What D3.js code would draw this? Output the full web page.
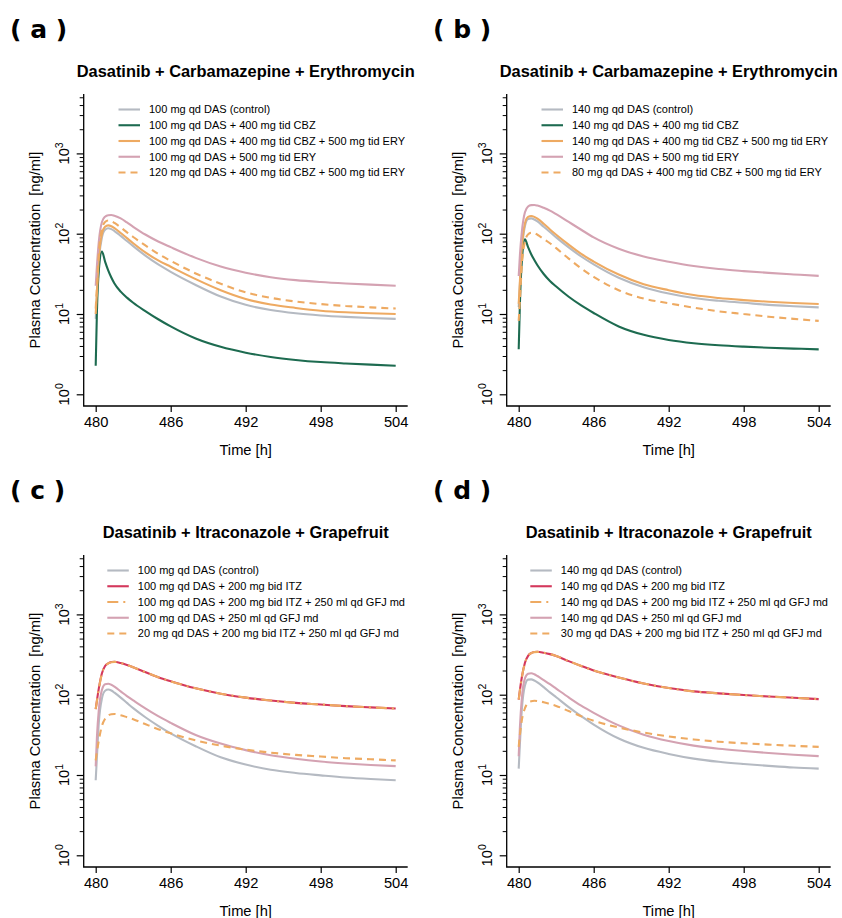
<!DOCTYPE html>
<html><head><meta charset="utf-8">
<script src="https://cdn.jsdelivr.net/npm/d3@7"></script>
<style>
body{margin:0;background:#fff}
svg{display:block}
text{font-family:"Liberation Sans",Arial,Helvetica,sans-serif;fill:#000}
</style></head>
<body><svg id="chart" width="842" height="918"></svg>
<script>
// ---------- data ----------
const timeH = [480, 480.1, 480.25, 480.5, 480.75, 481, 481.25, 481.5, 482, 482.5, 483, 484, 485, 486, 488, 490, 492, 494, 496, 498, 500, 502, 504];

// panel (a) 100 mg DAS
const aControl = [8.7, 17, 45, 90, 112, 117, 114, 108, 94, 81, 70, 53, 41.5, 33.5, 23, 16.5, 13, 11.2, 10.2, 9.6, 9.2, 8.9, 8.7];
const aCBZ     = [2.27, 11, 35, 60, 45, 35, 28.5, 24, 19, 16, 13.8, 10.8, 8.6, 7.0, 4.95, 3.9, 3.3, 2.92, 2.68, 2.52, 2.42, 2.34, 2.27];
const aCBZERY  = [10, 19, 50, 100, 122, 127, 124, 117, 102, 88, 76, 58, 46.5, 38.8, 27.2, 19.8, 15.4, 13.1, 11.9, 11.0, 10.5, 10.2, 10];
const aERY     = [22.5, 40, 80, 140, 163, 170, 171, 167, 155, 138, 122, 97, 80, 68, 50, 39, 32.7, 28.7, 26.4, 25, 24, 23.2, 22.5];
const aAdj     = [11.7, 22, 58, 115, 140, 146, 143, 136, 120, 104, 91, 71, 56, 46, 32, 23.8, 18.6, 15.9, 14.3, 13.3, 12.6, 12.1, 11.7];

// panel (b) 140 mg DAS
const bControl = [12.2, 24, 60, 125, 152, 155, 150, 142, 122, 105, 90, 67.5, 52, 41.5, 28.3, 21.6, 18, 15.8, 14.6, 13.8, 13, 12.5, 12.1];
const bCBZ     = [3.63, 14, 45, 85, 68, 55.5, 47, 40.5, 31.5, 25.8, 22, 16.4, 12.8, 10.3, 7.0, 5.5, 4.75, 4.33, 4.08, 3.92, 3.8, 3.71, 3.63];
const bCBZERY  = [13.4, 26, 66, 135, 162, 166, 162, 154, 133, 113, 97, 73, 56, 45, 31, 23.5, 19.8, 17.2, 15.8, 14.9, 14.2, 13.7, 13.3];
const bERY     = [29.7, 55, 105, 185, 218, 227, 228, 224, 210, 194, 175, 140, 112, 90, 65, 52, 44.8, 39.6, 36.3, 34.2, 32.5, 31.1, 29.8];
const bAdj     = [8.2, 15, 40, 80, 98, 103, 102, 97, 86, 76, 66, 49, 37, 29, 19.8, 15.6, 13.6, 12, 10.8, 10, 9.25, 8.7, 8.2];

// panel (c) 100 mg DAS
const cControl = [8.6, 17, 45, 90, 112, 116, 113, 106, 92, 79, 68, 52, 41, 33, 22.8, 16.6, 13.5, 11.6, 10.6, 9.9, 9.3, 8.9, 8.6];
const cITZ     = [66, 85, 120, 185, 228, 246, 255, 257, 248, 235, 220, 190, 165, 147, 120, 103, 92, 84.5, 79, 75.5, 72, 69.5, 67.3];
const cITZGFJ  = [66, 84, 118, 183, 227, 245, 254, 256, 248, 235, 220, 190, 165, 147, 120, 103, 92, 84.5, 79, 75.5, 72, 69.5, 67.3];
const cGFJ     = [12.8, 30, 65, 115, 135, 137, 133, 126, 110, 96, 85, 67, 54, 44.6, 31.5, 24.6, 20.4, 17.6, 15.9, 14.7, 13.9, 13.3, 12.9];
const cAdj     = [15.2, 19.5, 27, 41, 50, 55, 57, 57.5, 55.5, 52.5, 49.5, 42.8, 37.2, 33, 27, 23.2, 20.7, 19, 17.8, 17, 16.2, 15.7, 15.2];

// panel (d) 140 mg DAS
const dControl = [12, 25, 65, 130, 154, 155, 150, 142, 124, 107, 93, 70, 54, 42.5, 28.5, 21.8, 18.3, 16, 14.6, 13.7, 13, 12.4, 12];
const dITZ     = [87, 115, 165, 250, 305, 330, 340, 342, 333, 320, 303, 262, 228, 200, 164, 138, 121, 110, 104, 99, 95, 91.5, 88];
const dITZGFJ  = [87, 114, 163, 248, 304, 329, 339, 341, 333, 320, 303, 262, 228, 200, 164, 138, 121, 110, 104, 99, 95, 91.5, 88];
const dGFJ     = [17.1, 40, 90, 160, 182, 185, 180, 171, 152, 135, 119, 92.5, 73, 59.5, 41.5, 31.8, 26.5, 23.2, 21.2, 19.9, 18.8, 17.9, 17.2];
const dAdj     = [22.4, 32, 48, 68, 79, 83, 84, 83.5, 80.5, 76.5, 72.5, 62.5, 54, 47.5, 39, 33.8, 30.2, 27.7, 26, 24.8, 23.9, 23.1, 22.4];

// labels
const panelLetters = ["( a )", "( b )", "( c )", "( d )"];
const titleCE = "Dasatinib + Carbamazepine + Erythromycin";
const titleIG = "Dasatinib + Itraconazole + Grapefruit";
const legendA = ["100 mg qd DAS (control)", "100 mg qd DAS + 400 mg tid CBZ", "100 mg qd DAS + 400 mg tid CBZ + 500 mg tid ERY", "100 mg qd DAS + 500 mg tid ERY", "120 mg qd DAS + 400 mg tid CBZ + 500 mg tid ERY"];
const legendB = ["140 mg qd DAS (control)", "140 mg qd DAS + 400 mg tid CBZ", "140 mg qd DAS + 400 mg tid CBZ + 500 mg tid ERY", "140 mg qd DAS + 500 mg tid ERY", "80 mg qd DAS + 400 mg tid CBZ + 500 mg tid ERY"];
const legendC = ["100 mg qd DAS (control)", "100 mg qd DAS + 200 mg bid ITZ", "100 mg qd DAS + 200 mg bid ITZ + 250 ml qd GFJ md", "100 mg qd DAS + 250 ml qd GFJ md", "20 mg qd DAS + 200 mg bid ITZ + 250 ml qd GFJ md"];
const legendD = ["140 mg qd DAS (control)", "140 mg qd DAS + 200 mg bid ITZ", "140 mg qd DAS + 200 mg bid ITZ + 250 ml qd GFJ md", "140 mg qd DAS + 250 ml qd GFJ md", "30 mg qd DAS + 200 mg bid ITZ + 250 ml qd GFJ md"];
const xTicks = [480, 486, 492, 498, 504];
const yMajor = [1, 10, 100, 1000];
const yExp = ["0", "1", "2", "3"];
const xLabel = "Time [h]";
const yLabel = "Plasma Concentration  [ng/ml]";

// ---------- styles ----------
const C_GRAY = "#b5bac2", C_GREEN = "#1d6b50", C_ORANGE = "#eeaa62", C_PINK = "#d4a2b2", C_RED = "#d4385c";
const DASH = "7,5", DASHDOT = "11,5,2,5";

const panels = [
  {ox: 0, oy: 0, letter: panelLetters[0], title: titleCE, legend: legendA, legX: 118.5,
   series: [[aControl, C_GRAY, null], [aCBZ, C_GREEN, null], [aCBZERY, C_ORANGE, null], [aERY, C_PINK, null], [aAdj, C_ORANGE, DASH]]},
  {ox: 423, oy: 0, letter: panelLetters[1], title: titleCE, legend: legendB, legX: 118.5,
   series: [[bControl, C_GRAY, null], [bCBZ, C_GREEN, null], [bCBZERY, C_ORANGE, null], [bERY, C_PINK, null], [bAdj, C_ORANGE, DASH]]},
  {ox: 0, oy: 461, letter: panelLetters[2], title: titleIG, legend: legendC, legX: 107.3,
   series: [[cControl, C_GRAY, null], [cITZ, C_RED, null], [cITZGFJ, C_ORANGE, DASHDOT], [cGFJ, C_PINK, null], [cAdj, C_ORANGE, DASH]]},
  {ox: 423, oy: 461, letter: panelLetters[3], title: titleIG, legend: legendD, legX: 107.3,
   series: [[dControl, C_GRAY, null], [dITZ, C_RED, null], [dITZGFJ, C_ORANGE, DASHDOT], [dGFJ, C_PINK, null], [dAdj, C_ORANGE, DASH]]}
];
const svg = d3.select("#chart");

panels.forEach(p => {
  const g = svg.append("g").attr("transform", `translate(${p.ox},${p.oy})`);
  const x = d3.scaleLinear().domain([480, 504]).range([95.7, 395.7]);
  const y = d3.scaleLog().domain([1, 1000]).range([394.3, 153.4]);
  const xLo = 480 - 0.04 * 24, xHi = 504 + 0.04 * 24;
  const yLo = y.invert(406), yHi = y.invert(94);

  // panel letter
  g.append("text").attr("x", 10).attr("y", 37.5)
    .style("font-family", "'DejaVu Sans',sans-serif").style("font-weight", "bold").style("font-size", "25px")
    .text(p.letter);
  // title
  g.append("text").attr("x", (x(xLo) + x(xHi)) / 2).attr("y", 77).attr("text-anchor", "middle")
    .style("font-weight", "bold").style("font-size", "16.4px").text(p.title);

  // axis lines (L-shaped box)
  g.append("path").attr("d", `M${x(xLo)},${y(yHi)}V${y(yLo)}H${x(xHi)}`)
    .attr("fill", "none").attr("stroke", "#000").attr("stroke-width", 1.3);

  // x axis ticks
  const xa = d3.axisBottom(x).tickValues(xTicks).tickSize(6).tickPadding(3).tickFormat(d3.format("d"));
  const gx = g.append("g").attr("transform", `translate(0,${y(yLo)})`).call(xa);
  gx.select(".domain").remove();
  gx.selectAll(".tick line").attr("stroke", "#000").attr("stroke-width", 1.2);
  gx.selectAll(".tick text").style("font-family", "'Liberation Sans',Arial,sans-serif").style("font-size", "14.7px").attr("fill", "#000").attr("y", 10.5);

  // y axis major + minor ticks
  const minor = [];
  [1, 10, 100].forEach(b => { for (let k = 2; k <= 9; k++) minor.push(b * k); });
  [2000, 3000, 4000, 5000].forEach(v => minor.push(v));
  const ya = d3.axisLeft(y).tickValues(yMajor).tickSize(7).tickFormat("");
  const gy = g.append("g").attr("transform", `translate(${x(xLo)},0)`).call(ya);
  gy.select(".domain").remove();
  gy.selectAll(".tick line").attr("stroke", "#000").attr("stroke-width", 1.2);
  const ym = d3.axisLeft(y).tickValues(minor).tickSize(4).tickFormat("");
  const gym = g.append("g").attr("transform", `translate(${x(xLo)},0)`).call(ym);
  gym.select(".domain").remove();
  gym.selectAll(".tick line").attr("stroke", "#000").attr("stroke-width", 1);

  // y tick labels 10^k rotated
  yMajor.forEach((v, i) => {
    const t = g.append("text").attr("transform", `translate(69,${y(v)}) rotate(-90)`)
      .attr("text-anchor", "middle").style("font-size", "14.7px");
    t.append("tspan").text("10");
    t.append("tspan").attr("dy", -6).style("font-size", "10.5px").text(yExp[i]);
  });

  // axis labels
  g.append("text").attr("x", (x(xLo) + x(xHi)) / 2).attr("y", 455).attr("text-anchor", "middle")
    .style("font-size", "14.7px").text(xLabel);
  g.append("text").attr("transform", `translate(39.5,${(y(yHi) + y(yLo)) / 2}) rotate(-90)`)
    .attr("text-anchor", "middle").style("font-size", "14.7px").style("white-space", "pre")
    .attr("xml:space", "preserve").text(yLabel);

  // curves
  const line = d3.line().x(d => x(d[0])).y(d => y(d[1])).curve(d3.curveMonotoneX);
  p.series.forEach(([vals, col, dash]) => {
    const pts = timeH.map((t, i) => [t, vals[i]]);
    g.append("path").datum(pts).attr("d", line).attr("fill", "none")
      .attr("stroke", col).attr("stroke-width", 2.1)
      .attr("stroke-dasharray", dash).attr("stroke-linejoin", "round");
  });

  // legend
  p.legend.forEach((lab, i) => {
    const yy = 109.5 + i * 15.75;
    const s = p.series[i];
    g.append("line").attr("x1", p.legX).attr("x2", p.legX + 21.5).attr("y1", yy).attr("y2", yy)
      .attr("stroke", s[1]).attr("stroke-width", 2.1).attr("stroke-dasharray", s[2]);
    g.append("text").attr("x", p.legX + 30.5).attr("y", yy + 3.9).style("font-size", "11px").text(lab);
  });
});
</script></body></html>
